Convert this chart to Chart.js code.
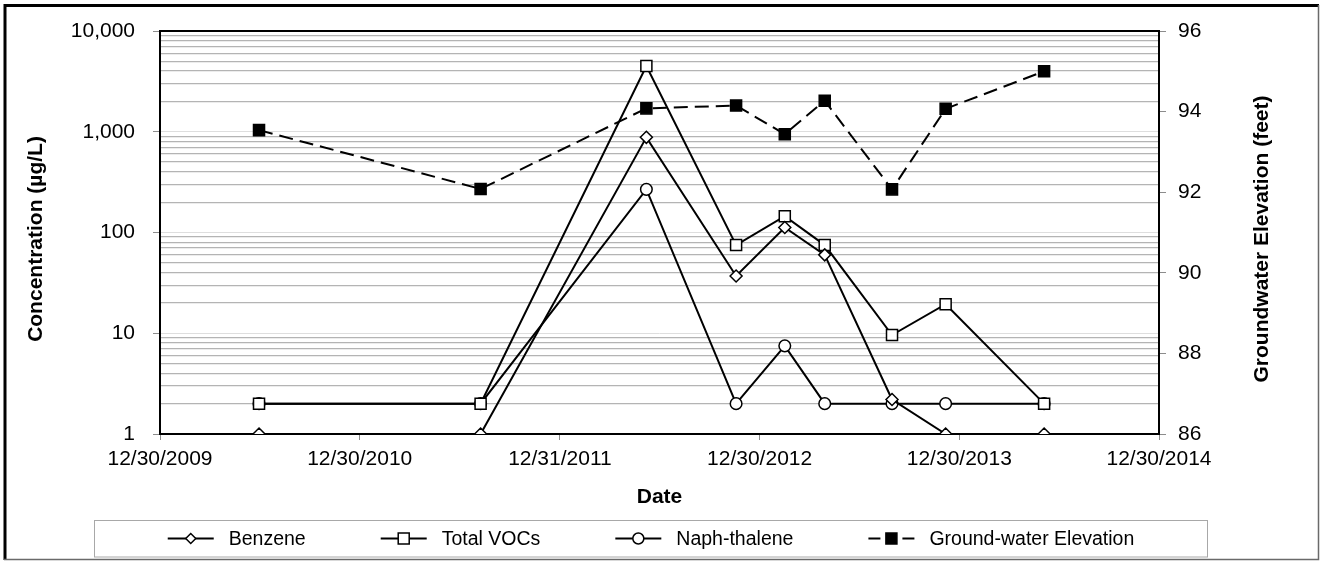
<!DOCTYPE html>
<html>
<head>
<meta charset="utf-8">
<script src="https://cdn.jsdelivr.net/npm/chart.js@4.4.0/dist/chart.umd.min.js"></script>
<style>
  html, body { margin: 0; padding: 0; background: #fff; }
  #wrap { width: 1323px; height: 561px; position: relative; }
</style>
</head>
<body>
<div id="wrap"><canvas id="chart"></canvas></div>
<script>
// sampling dates and values
const sampleDates = ['2010-06-29', '2011-08-08', '2012-06-06', '2012-11-17', '2013-02-14', '2013-04-28', '2013-08-29', '2013-12-05', '2014-06-03'];
const benzene     = [1, 1, 880, 37, 112, 60, 2.2, 1, 1];
const totalVOCs   = [2, 2, 4500, 75, 145, 75, 9.6, 19.4, 2];
const naphthalene = [2, 2, 268, 2, 7.5, 2, 2, 2, 2];
const gwElevation = [93.54, 92.08, 94.08, 94.15, 93.44, 94.27, 92.07, 94.07, 95.0];

const xTickDates  = ['2009-12-30', '2010-12-30', '2011-12-31', '2012-12-30', '2013-12-30', '2014-12-30'];
const xTickLabels = ['12/30/2009', '12/30/2010', '12/31/2011', '12/30/2012', '12/30/2013', '12/30/2014'];
const yTickLabels = ['1', '10', '100', '1,000', '10,000'];
const y2TickLabels = ['86', '88', '90', '92', '94', '96'];

const FONT = "'Liberation Sans', Arial, sans-serif";
Chart.defaults.font.family = FONT;
Chart.defaults.color = '#000';

const dayOf = s => (Date.parse(s + 'T00:00:00Z') - Date.parse(xTickDates[0] + 'T00:00:00Z')) / 86400000;
const toPoints = vals => sampleDates.map((d, i) => ({ x: dayOf(d), y: vals[i] }));
const isPow10 = v => { const k = Math.log10(v); return Math.abs(k - Math.round(k)) < 1e-9; };

const lineBase = { borderColor: '#000', borderWidth: 2, pointBorderColor: '#000', pointBorderWidth: 1.5, tension: 0, yAxisID: 'y' };

const datasets = [
  { ...lineBase, label: 'Ground-water Elevation', data: toPoints(gwElevation), yAxisID: 'y2', pointStyle: 'rect', pointRadius: 7.8, pointBackgroundColor: '#000', borderDash: [14, 7], order: 0 },
  { ...lineBase, label: 'Benzene', data: toPoints(benzene), pointStyle: 'rectRot', pointRadius: 6, pointBackgroundColor: '#fff', order: 1 },
  { ...lineBase, label: 'Total VOCs', data: toPoints(totalVOCs), pointStyle: 'rect', pointRadius: 7.8, pointBackgroundColor: '#fff', order: 2 },
  { ...lineBase, label: 'Naph-thalene', data: toPoints(naphthalene), pointStyle: 'circle', pointRadius: 5.8, pointBackgroundColor: '#fff', order: 3 }
];

// legend order as in the picture
const legendItems = [
  { label: 'Benzene', shape: 'diamond', fill: '#fff', dashed: false },
  { label: 'Total VOCs', shape: 'square', fill: '#fff', dashed: false },
  { label: 'Naph-thalene', shape: 'circle', fill: '#fff', dashed: false },
  { label: 'Ground-water Elevation', shape: 'square', fill: '#000', dashed: true }
];

function drawMarker(ctx, shape, x, y, fill) {
  ctx.beginPath();
  if (shape === 'diamond') {
    ctx.moveTo(x, y - 5); ctx.lineTo(x + 5, y); ctx.lineTo(x, y + 5); ctx.lineTo(x - 5, y); ctx.closePath();
  } else if (shape === 'square') {
    ctx.rect(x - 5.5, y - 5.5, 11, 11);
  } else {
    ctx.arc(x, y, 5.5, 0, Math.PI * 2);
  }
  ctx.fillStyle = fill;
  ctx.fill();
  ctx.lineWidth = 1.5;
  ctx.strokeStyle = '#000';
  ctx.stroke();
}

const decorPlugin = {
  id: 'decor',
  beforeDraw(chart) {
    const ctx = chart.ctx;
    ctx.save();
    ctx.fillStyle = '#fff';
    ctx.fillRect(0, 0, chart.width, chart.height);
    ctx.restore();
  },
  beforeDatasetsDraw(chart) {
    const { ctx, chartArea: a } = chart;
    ctx.save();
    ctx.strokeStyle = '#000';
    ctx.lineWidth = 2;
    ctx.strokeRect(a.left, a.top, a.right - a.left, a.bottom - a.top);
    ctx.restore();
  },
  afterDraw(chart) {
    const { ctx } = chart;
    ctx.save();
    // outer frame
    ctx.strokeStyle = '#000';
    ctx.lineWidth = 3;
    ctx.beginPath();
    ctx.moveTo(5, 560); ctx.lineTo(5, 5.5); ctx.lineTo(1319, 5.5);
    ctx.stroke();
    ctx.strokeStyle = '#6a6a6a';
    ctx.lineWidth = 1.5;
    ctx.beginPath();
    ctx.moveTo(1318.5, 5); ctx.lineTo(1318.5, 559.5); ctx.lineTo(4, 559.5);
    ctx.stroke();

    // vertical axis titles, both reading bottom-to-top
    ctx.fillStyle = '#000';
    ctx.font = 'bold 21px ' + FONT;
    ctx.textAlign = 'center';
    ctx.textBaseline = 'middle';
    const midY = 239;
    [['Concentration (µg/L)', 36], ['Groundwater Elevation (feet)', 1262]].forEach(([txt, x]) => {
      ctx.save();
      ctx.translate(x, midY);
      ctx.rotate(-Math.PI / 2);
      ctx.fillText(txt, 0, 0);
      ctx.restore();
    });

    // legend box
    const box = { left: 94.5, top: 520.5, right: 1207.5, bottom: 557 };
    ctx.strokeStyle = '#a8a8a8';
    ctx.lineWidth = 1;
    ctx.strokeRect(box.left, box.top, box.right - box.left, box.bottom - box.top);
    ctx.font = '19.5px ' + FONT;
    ctx.textAlign = 'left';
    const sample = 46, textGap = 15, itemGap = 75;
    const widths = legendItems.map(it => ctx.measureText(it.label).width);
    const total = widths.reduce((s, w) => s + sample + textGap + w, 0) + itemGap * (legendItems.length - 1);
    let sx = (box.left + box.right) / 2 - total / 2;
    const ly = 538.5;
    legendItems.forEach((it, i) => {
      ctx.strokeStyle = '#000';
      ctx.lineWidth = 2;
      ctx.beginPath();
      if (it.dashed) {
        ctx.moveTo(sx, ly); ctx.lineTo(sx + 12, ly);
        ctx.moveTo(sx + sample - 12, ly); ctx.lineTo(sx + sample, ly);
      } else {
        ctx.moveTo(sx, ly); ctx.lineTo(sx + sample, ly);
      }
      ctx.stroke();
      drawMarker(ctx, it.shape, sx + sample / 2, ly, it.fill);
      ctx.fillStyle = '#000';
      ctx.fillText(it.label, sx + sample + textGap, ly + 1);
      sx += sample + textGap + widths[i] + itemGap;
    });
    ctx.restore();
  }
};

new Chart(document.getElementById('chart'), {
  type: 'line',
  data: { datasets },
  plugins: [decorPlugin],
  options: {
    responsive: true,
    maintainAspectRatio: false,
    animation: false,
    events: [],
    layout: { padding: { top: 31, left: 0, right: 0, bottom: 51 } },
    plugins: { legend: { display: false }, tooltip: { enabled: false } },
    scales: {
      x: {
        type: 'linear',
        min: dayOf(xTickDates[0]),
        max: dayOf(xTickDates[xTickDates.length - 1]),
        afterBuildTicks: s => { s.ticks = xTickDates.map(d => ({ value: dayOf(d) })); },
        afterFit: s => { s.height = 76; },
        border: { display: false },
        grid: { drawOnChartArea: false, tickLength: 6, tickColor: '#8c8c8c' },
        ticks: { font: { size: 21 }, padding: 7, maxRotation: 0, autoSkip: false,
                 callback: (v, i) => xTickLabels[i] },
        title: { display: true, text: 'Date', font: { size: 21, weight: 'bold' }, padding: { top: 0, bottom: 0 } }
      },
      y: {
        type: 'logarithmic',
        position: 'left',
        min: 1,
        max: 10000,
        afterBuildTicks: s => {
          s.ticks = s.ticks.filter(t => {
            const m = t.value / Math.pow(10, Math.floor(Math.log10(t.value) + 1e-9));
            return Math.abs(m - Math.round(m)) < 1e-9;
          });
        },
        afterFit: s => { s.width = 160; },
        border: { display: false },
        grid: {
          color: c => (c.tick && isPow10(c.tick.value)) ? '#dedede' : '#b4b4b4',
          lineWidth: c => (c.tick && isPow10(c.tick.value)) ? 1 : 1.3,
          tickColor: c => (c.tick && isPow10(c.tick.value)) ? '#8c8c8c' : 'rgba(0,0,0,0)',
          tickLength: 7
        },
        ticks: { font: { size: 21 }, padding: 18, autoSkip: false,
                 callback: v => isPow10(v) ? yTickLabels[Math.round(Math.log10(v))] : '' }
      },
      y2: {
        type: 'linear',
        position: 'right',
        min: Number(y2TickLabels[0]),
        max: Number(y2TickLabels[y2TickLabels.length - 1]),
        afterFit: s => { s.width = 164; },
        border: { display: false },
        grid: { drawOnChartArea: false, tickLength: 7, tickColor: '#8c8c8c' },
        ticks: { font: { size: 21 }, padding: 12, stepSize: 2, autoSkip: false,
                 callback: (v, i) => y2TickLabels[i] }
      }
    }
  }
});
</script>
</body>
</html>
